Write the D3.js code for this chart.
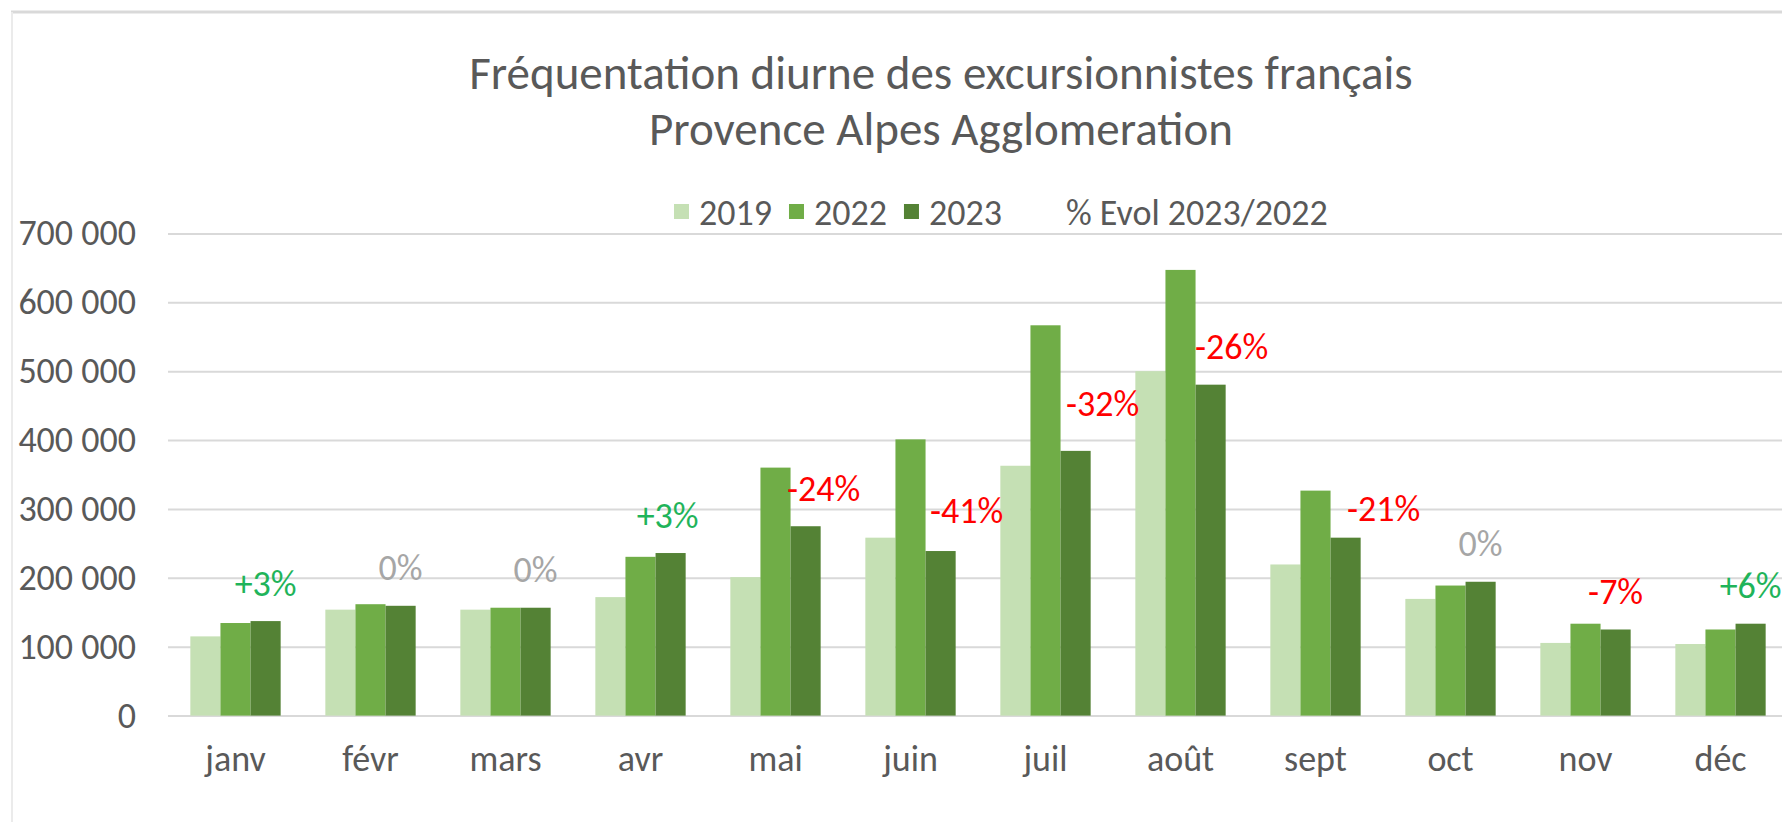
<!DOCTYPE html>
<html>
<head>
<meta charset="utf-8">
<script src="https://cdn.jsdelivr.net/npm/d3@7"></script>
<style>
  html, body { margin: 0; padding: 0; background: #fff; }
  text { font-family: Carlito, Calibri, Lato, sans-serif; }
</style>
</head>
<body>
<div id="chart"></div>
<script>
const MONTHS = ["janv", "févr", "mars", "avr", "mai", "juin", "juil", "août", "sept", "oct", "nov", "déc"];
const SERIES = ["2019", "2022", "2023"];
const V2019 = [115000, 153800, 153800, 172000, 201000, 258300, 362700, 500000, 219400, 169400, 105500, 103900];
const V2022 = [134400, 161700, 156600, 230500, 360000, 401000, 566600, 647000, 326600, 188800, 133400, 125000];
const V2023 = [137200, 159400, 156600, 236000, 274900, 238900, 384300, 480400, 258300, 194300, 125000, 133400];
const EVOL = ["+3%", "0%", "0%", "+3%", "-24%", "-41%", "-32%", "-26%", "-21%", "0%", "-7%", "+6%"];
const Y_TICKS = [0, 100000, 200000, 300000, 400000, 500000, 600000, 700000];

const W = 1782, H = 822;
const PLOT = { left: 168, right: 1788, top: 233.4, bottom: 715.6 };
const COLORS = { "2019": "#C5E0B4", "2022": "#70AD47", "2023": "#548235" };
const TXT = "#595959";
const FS = 36;
// labels moved by hand in the original so they don't sit on the 2022 bars
const LABEL_NUDGE = { "avr": [-3, 0], "mai": [18, 0], "juin": [26, -3], "juil": [27, -9], "août": [21, 0], "sept": [38, 9] };

const rows = MONTHS.map((m, i) => ({ month: m, "2019": V2019[i], "2022": V2022[i], "2023": V2023[i], evol: EVOL[i] }));

const svg = d3.select("#chart").append("svg")
    .attr("width", W).attr("height", H);

svg.append("rect").attr("width", W).attr("height", H).attr("fill", "#fff");

// frame (cropped on the right and bottom)
svg.append("line").attr("x1", 11).attr("x2", W).attr("y1", 12).attr("y2", 12)
    .attr("stroke", "#D9D9D9").attr("stroke-width", 3);
svg.append("line").attr("x1", 12).attr("x2", 12).attr("y1", 12).attr("y2", H)
    .attr("stroke", "#EBEBEB").attr("stroke-width", 2);

// TITLE
const title = svg.append("text")
    .attr("text-anchor", "middle")
    .attr("fill", TXT)
    .style("font-size", "47px");
title.append("tspan").attr("x", 941).attr("y", 89).text("Fréquentation diurne des excursionnistes français");
title.append("tspan").attr("x", 941).attr("y", 145).text("Provence Alpes Agglomeration");

// SCALES
const x = d3.scaleBand()
    .domain(MONTHS)
    .range([PLOT.left, PLOT.right])
    .paddingInner(0.331)
    .paddingOuter(0.1655);

const xs = d3.scaleBand()
    .domain(SERIES)
    .range([0, x.bandwidth()]);

const y = d3.scaleLinear()
    .domain([0, 700000])
    .range([PLOT.bottom, PLOT.top]);

const fmt = d3.formatLocale({ decimal: ",", thousands: " ", grouping: [3], currency: ["", "€"] }).format(",d");

// GRID + Y AXIS
const yAxis = svg.append("g")
    .attr("transform", `translate(${PLOT.left},0)`)
    .call(d3.axisLeft(y).tickValues(Y_TICKS).tickFormat(fmt)
        .tickSize(-(W - PLOT.left)).tickPadding(32));
yAxis.select(".domain").remove();
yAxis.selectAll(".tick line").attr("stroke", "#D9D9D9").attr("stroke-width", 2);
yAxis.selectAll(".tick text")
    .attr("fill", TXT)
    .style("font-size", FS + "px");

// BARS
const groups = svg.append("g").selectAll("g")
    .data(rows)
    .join("g")
    .attr("transform", d => `translate(${x(d.month)},0)`);

groups.selectAll("rect")
    .data(d => SERIES.map(s => ({ key: s, value: d[s] })))
    .join("rect")
    .attr("x", d => xs(d.key))
    .attr("y", d => y(d.value))
    .attr("width", xs.bandwidth())
    .attr("height", d => y(0) - y(d.value))
    .attr("fill", d => COLORS[d.key]);

// X AXIS
const xAxis = svg.append("g")
    .attr("transform", `translate(0,${PLOT.bottom})`)
    .call(d3.axisBottom(x).tickSize(0).tickPadding(30));
xAxis.select(".domain").remove();
xAxis.selectAll(".tick text")
    .attr("fill", TXT)
    .style("font-size", FS + "px");

// EVOL LABELS
const evolColor = t => t[0] === "+" ? "#1FB45A" : t[0] === "-" ? "#FF0000" : "#A6A6A6";
svg.append("g").selectAll("text")
    .data(rows)
    .join("text")
    .attr("transform", d => {
        const n = LABEL_NUDGE[d.month] || [0, 0];
        const cx = x(d.month) + xs("2023") + xs.bandwidth() / 2 + n[0];
        const cy = y(d["2023"]) - 38 + n[1];
        return `translate(${cx},${cy})`;
    })
    .attr("text-anchor", "middle")
    .attr("dy", "0.35em")
    .attr("fill", d => evolColor(d.evol))
    .style("font-size", FS + "px")
    .text(d => d.evol);

// LEGEND
const legend = svg.append("g").attr("transform", "translate(674,212)");
let lx = 0;
SERIES.concat(["% Evol 2023/2022"]).forEach(s => {
    if (COLORS[s]) {
        legend.append("rect").attr("x", lx).attr("y", -8).attr("width", 15).attr("height", 15)
            .attr("fill", COLORS[s]);
        lx += 25;
    } else {
        lx += 47;
    }
    const t = legend.append("text")
        .attr("x", lx).attr("dy", "0.35em")
        .attr("fill", TXT)
        .style("font-size", FS + "px")
        .text(s);
    lx += t.node().getComputedTextLength() + 17;
});
</script>
</body>
</html>
